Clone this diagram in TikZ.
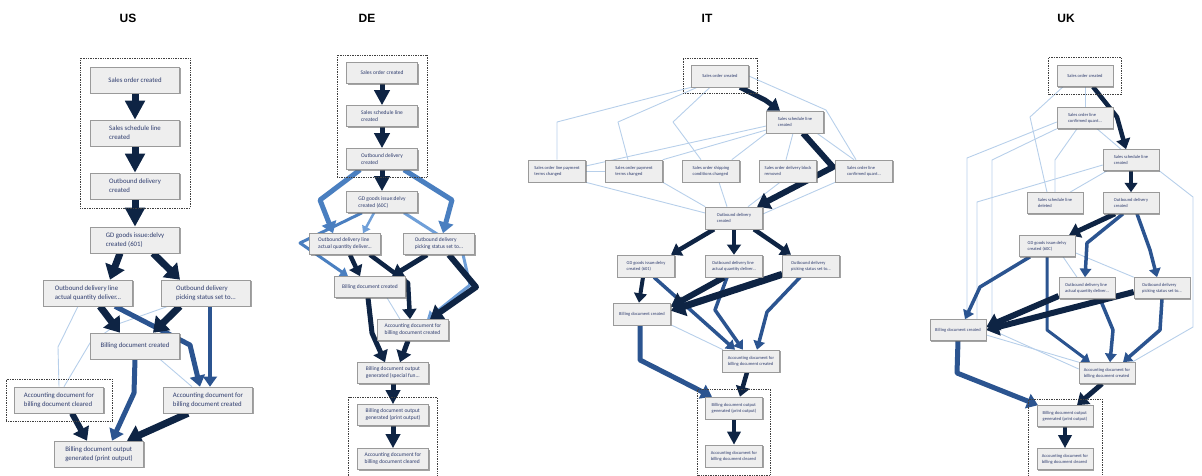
\documentclass[tikz,border=0pt]{standalone}
\usepackage{fontspec}
\newfontfamily\carl{Carlito}
\newfontfamily\hd{Liberation Sans}
\usetikzlibrary{arrows.meta,shadows,fit}
\definecolor{dkc}{HTML}{0E2444}
\definecolor{mdc}{HTML}{2B5490}
\definecolor{lbc}{HTML}{4A7FC0}
\definecolor{lb2c}{HTML}{6F9FD8}
\definecolor{ltc}{HTML}{B7CFEA}
\definecolor{txtc}{HTML}{2E3C6E}
\definecolor{fillc}{HTML}{EEEEEE}
\definecolor{boxc}{HTML}{9A9A9A}
\pgfdeclarelayer{edges}
\pgfsetlayers{edges,main}
\tikzset{
  box/.style={draw=boxc, fill=fillc, line width=0.6pt, align=left, text=txtc, inner sep=1pt,
    drop shadow={shadow xshift=1.3pt, shadow yshift=-1.3pt, fill=black!60, opacity=0.6}},
  bus/.style={box, minimum width=89pt, minimum height=26pt, font=\carl\fontsize{6.8}{9}\selectfont},
  bde/.style={box, minimum width=71pt, minimum height=21pt, font=\carl\fontsize{5.5}{7}\selectfont},
  bit/.style={box, minimum width=57pt, minimum height=22pt, font=\carl\fontsize{4.5}{6}\selectfont},
  buk/.style={box, minimum width=56pt, minimum height=21pt, font=\carl\fontsize{4.5}{6}\selectfont},
  dotbox/.style={draw=black!75, line width=0.6pt, dash pattern=on 0.8pt off 0.9pt, inner sep=0pt},
  heading/.style={font=\hd\bfseries\fontsize{12}{14}\selectfont, text=black},
  arr/.style={-{Triangle[length=3pt 1.6, width=3pt 2.4]}},
  bigtip/.style={-{Triangle[length=#1, width=#1]}},
  edk/.style={draw=dkc, line width=#1, arr, line join=round},
  edk/.default=4pt,
  emd/.style={draw=mdc, line width=#1, arr, line join=round},
  emd/.default=3pt,
  elb/.style={draw=lbc, line width=#1, arr, line join=round},
  elb/.default=3pt,
  elbb/.style={draw=lb2c, line width=#1, arr, line join=round},
  elbb/.default=2pt,
  elt/.style={draw=ltc, line width=0.9pt, line join=round}
}
\begin{document}
\begin{tikzpicture}[x=1pt,y=-1pt]
\useasboundingbox (0,0) rectangle (1202,476);

% headings
\node[heading] (hus) at (128,18) {US};
\node[heading] (hde) at (367,18) {DE};
\node[heading] (hit) at (707,18) {IT};
\node[heading] (huk) at (1066,18) {UK};

% ===================== US =====================
\node[bus] (u1) at (135,80) {Sales order created};
\node[bus] (u2) at (135,133) {Sales schedule line\\created};
\node[bus] (u3) at (135,186) {Outbound delivery\\created};
\node[bus] (u4) at (135,240) {GD goods issue:delvy\\created (601)};
\node[bus] (u5) at (88,293) {Outbound delivery line\\actual quantity deliver...};
\node[bus] (u6) at (206,293) {Outbound delivery\\picking status set to...};
\node[bus] (u7) at (135,346) {Billing document created};
\node[bus] (u8) at (59,400) {Accounting document for\\billing document cleared};
\node[bus] (u9) at (208,400) {Accounting document for\\billing document created};
\node[bus] (u10) at (99,454) {Billing document output\\generated (print output)};
\node[dotbox, fit=(u1)(u3), inner xsep=10pt, inner ysep=8.5pt] (fu1) {};
\node[dotbox, fit=(u8), inner xsep=8pt, inner ysep=7.5pt] (fu2) {};

\begin{pgfonlayer}{edges}
\draw[elt] ([xshift=-10pt]u5.south) -- (58,347) -- (u8.north);
\draw[elt] ([xshift=-38pt]u6.south) -- (118,324) -- (90,343) -- ([xshift=5pt]u8.north);
\draw[elt] ([xshift=25pt]u7.south) -- ([xshift=-16pt]u9.north);
\draw[edk=7pt, bigtip=19pt] (u1.south) -- (u2.north);
\draw[edk=7pt, bigtip=19pt] (u2.south) -- (u3.north);
\draw[edk=7pt, bigtip=19pt] (u3.south) -- (u4.north);
\draw[edk=7pt] ([xshift=-15pt]u4.south) -- ([xshift=22pt]u5.north);
\draw[edk=7pt] ([xshift=18pt]u4.south) -- ([xshift=-26pt]u6.north);
\draw[emd=5pt] ([xshift=27pt]u5.south) -- (190,345) -- ([xshift=-8pt]u9.north);
\draw[emd=4.5pt] ([xshift=4pt]u6.south) -- ([xshift=2pt]u9.north);
\draw[edk=7pt] ([xshift=12pt]u5.south) -- ([xshift=-15pt]u7.north);
\draw[edk=7pt] ([xshift=-26pt]u6.south) -- ([xshift=18pt]u7.north);
\draw[emd=5pt] (u7.south) -- (134,393) -- ([xshift=13pt]u10.north);
\draw[edk=7pt] ([xshift=-20pt]u9.south) -- ([xshift=28pt]u10.north);
\draw[edk=6pt] ([xshift=13pt]u8.south) -- ([xshift=-12pt]u10.north);
\end{pgfonlayer}

% ===================== DE =====================
\node[bde] (d1) at (382,73) {Sales order created};
\node[bde] (d2) at (382,116) {Sales schedule line\\created};
\node[bde] (d3) at (382,159) {Outbound delivery\\created};
\node[bde] (d4) at (382,202) {GD goods issue:delvy\\created (60C)};
\node[bde] (d5) at (345,244) {Outbound delivery line\\actual quantity deliver...};
\node[bde] (d6) at (439,244) {Outbound delivery\\picking status set to...};
\node[bde] (d7) at (370,287) {Billing document created};
\node[bde] (d8) at (413,330) {Accounting document for\\billing document created};
\node[bde] (d9) at (393,373) {Billing document output\\generated (special fun...};
\node[bde] (d10) at (393,415) {Billing document output\\generated (print output)};
\node[bde] (d11) at (393,459) {Accounting document for\\billing document cleared};
\node[dotbox, fit=(d1)(d3), inner xsep=9pt, inner ysep=7pt] (fd1) {};
\node[dotbox, fit=(d10)(d11), inner xsep=8.5pt, inner ysep=7pt] (fd2) {};

\begin{pgfonlayer}{edges}
\draw[elt] ([xshift=17pt]d7.south) -- ([xshift=-13pt]d8.north);
\draw[elb=5pt] ([xshift=-22pt]d3.south) -- (320,200) -- ([xshift=-12pt]d5.north);
\draw[elb=3pt] ([xshift=-20pt]d4.south) -- (300,243) -- ([xshift=-22pt]d7.north);
\draw[elb=5pt] ([xshift=22pt]d3.south) -- (452,200) -- ([xshift=4pt]d6.north);
\draw[elbb=2.5pt] ([xshift=-8pt]d4.south) -- ([xshift=18pt]d5.north);
\draw[elbb=3pt] ([xshift=22pt]d4.south) -- (462,250) -- (470,285) -- ([xshift=14pt]d8.north);
\draw[edk=5pt, bigtip=15pt] (d1.south) -- (d2.north);
\draw[edk=5pt, bigtip=15pt] (d2.south) -- (d3.north);
\draw[edk=5pt, bigtip=15pt] (d3.south) -- (d4.north);
\draw[edk=4.5pt] ([xshift=5pt]d5.south) -- ([xshift=-10pt]d7.north);
\draw[edk=4.5pt] ([xshift=25pt]d5.south) -- (408,283) -- ([xshift=-3pt]d8.north);
\draw[edk=5pt] ([xshift=-12pt]d6.south) -- ([xshift=22pt]d7.north);
\draw[edk=6pt] ([xshift=10pt]d6.south) -- (476,287) -- ([xshift=17pt]d8.north);
\draw[edk=5pt] ([xshift=-2pt]d7.south) -- (372,333) -- ([xshift=-8pt]d9.north);
\draw[edk=5pt] ([xshift=-5pt]d8.south) -- ([xshift=7pt]d9.north);
\draw[edk=5pt, bigtip=14pt] (d9.south) -- (d10.north);
\draw[edk=5pt, bigtip=14pt] (d10.south) -- (d11.north);
\end{pgfonlayer}

% ===================== IT =====================
\node[bit] (i1) at (720,76) {Sales order created};
\node[bit] (i2) at (795,122) {Sales schedule line\\created};
\node[bit] (i3) at (557,171) {Sales order line payment\\terms changed};
\node[bit] (i4) at (634,171) {Sales order payment\\terms changed};
\node[bit] (i5) at (711,171) {Sales order shipping\\conditions changed};
\node[bit] (i6) at (788,171) {Sales order delivery block\\removed};
\node[bit] (i7) at (864,171) {Sales order line\\confirmed quant...};
\node[bit] (i8) at (734,218) {Outbound delivery\\created};
\node[bit] (i9) at (646,266) {GD goods issue:delvy\\created (601)};
\node[bit] (i10) at (734,266) {Outbound delivery line\\actual quantity deliver...};
\node[bit] (i11) at (811,266) {Outbound delivery\\picking status set to...};
\node[bit] (i12) at (642,314) {Billing document created};
\node[bit] (i13) at (751,361) {Accounting document for\\billing document created};
\node[bit] (i14) at (734,408) {Billing document output\\generated (print output)};
\node[bit] (i15) at (734,456) {Accounting document for\\billing document cleared};
\node[dotbox, fit=(i1), inner xsep=8pt, inner ysep=6.5pt] (fi1) {};
\node[dotbox, fit=(i14)(i15), inner xsep=7.5pt, inner ysep=7.5pt] (fi2) {};

\begin{pgfonlayer}{edges}
\draw[elt] (i1.south west) -- (557,122) -- (i3.north);
\draw[elt] ([xshift=6pt]i1.south west) -- (618,122) -- ([xshift=-6pt]i4.north);
\draw[elt] ([xshift=-10pt]i1.south) -- (673,122) -- ([xshift=-10pt]i5.north);
\draw[elt] (i1.east) -- (826,110) -- ([xshift=-8pt]i7.north);
\draw[elt] ([yshift=-4pt]i2.west) -- ([yshift=5pt]i3.east);
\draw[elt] ([yshift=-8pt]i2.west) -- (i4.north east);
\draw[elt] (i2.south west) -- ([xshift=-8pt]i5.north east);
\draw[elt] ([xshift=-2pt]i2.south) -- ([xshift=-2pt]i6.north);
\draw[elt] ([xshift=22pt]i2.south) -- ([xshift=-10pt]i7.north);
\draw[elt] (i3.east) -- (i4.west);
\draw[elt] (i3.south east) -- ([yshift=5pt]i8.west);
\draw[elt] (i4.south east) -- (i8.north west);
\draw[elt] ([xshift=8pt]i5.south) -- ([xshift=-7pt]i8.north);
\draw[elt] ([xshift=-8pt]i6.south) -- ([xshift=14pt]i8.north);
\draw[elt] (i7.south west) -- ([yshift=4pt]i8.east);
\draw[elt] ([xshift=30pt]i12.south) -- ([xshift=-28pt]i13.north);
\draw[edk=5pt] ([xshift=20pt]i1.south) -- (765,100) -- ([xshift=-15pt]i2.north);
\draw[edk=6pt] ([xshift=8pt]i2.south) -- (833,167) -- ([xshift=23pt]i8.north);
\draw[edk=4.5pt] ([xshift=-20pt]i8.south) -- ([xshift=25pt]i9.north);
\draw[edk=4.5pt] (i8.south) -- (i10.north);
\draw[edk=4.5pt] ([xshift=20pt]i8.south) -- ([xshift=-20pt]i11.north);
\draw[edk=4pt] ([xshift=-3pt]i9.south) -- ([xshift=-3pt]i12.north);
\draw[emd=3.5pt] ([xshift=8pt]i9.south) -- ([xshift=-16pt]i13.north);
\draw[emd=3.5pt] ([xshift=-7pt]i10.south) -- (715,310) -- ([xshift=-8pt]i13.north);
\draw[emd=3.5pt] ([xshift=-11pt]i11.south) -- (767,312) -- ([xshift=6pt]i13.north);
\draw[edk=6pt] ([xshift=-10pt]i10.south) -- ([yshift=-4pt]i12.north east);
\draw[edk=7pt] ([yshift=3pt]i11.south west) -- ([yshift=-8pt]i12.north east);
\draw[emd=5pt] ([xshift=-2pt]i12.south) -- (640,360) -- ([xshift=-22pt]i14.north);
\draw[edk=4.5pt] ([xshift=-4pt]i13.south) -- ([xshift=6pt]i14.north);
\draw[edk=4.5pt, bigtip=13pt] (i14.south) -- (i15.north);
\end{pgfonlayer}

% ===================== UK =====================
\node[buk] (k1) at (1085,76) {Sales order created};
\node[buk] (k2) at (1085,118) {Sales order line\\confirmed quant...};
\node[buk] (k3) at (1131,160) {Sales schedule line\\created};
\node[buk] (k4) at (1055,203) {Sales schedule line\\deleted};
\node[buk] (k5) at (1131,203) {Outbound delivery\\created};
\node[buk] (k6) at (1047,246) {GD goods issue:delvy\\created (60C)};
\node[buk] (k7) at (1087,288) {Outbound delivery line\\actual quantity deliver...};
\node[buk] (k8) at (1162,288) {Outbound delivery\\picking status set to...};
\node[buk] (k9) at (958,330) {Billing document created};
\node[buk] (k10) at (1107,373) {Accounting document for\\billing document created};
\node[buk] (k11) at (1065,416) {Billing document output\\generated (print output)};
\node[buk] (k12) at (1065,459) {Accounting document for\\billing document cleared};
\node[dotbox, fit=(k1), inner xsep=8pt, inner ysep=8pt] (fk1) {};
\node[dotbox, fit=(k11)(k12), inner xsep=8.5pt, inner ysep=6pt] (fk2) {};

\begin{pgfonlayer}{edges}
\draw[elt] (k1.south) -- (k2.north);
\draw[elt] ([xshift=-22pt]k1.south) -- (1030,117) -- ([xshift=-8pt]k4.north);
\draw[elt] ([xshift=-8pt]k2.south) -- (1055,160) -- (k4.north);
\draw[elt] ([xshift=12pt]k2.south) -- ([xshift=-10pt]k3.north);
\draw[elt] ([yshift=-4pt]k2.west) -- (967,158) -- ([xshift=9pt]k9.north);
\draw[elt] (k2.south west) -- (992,160) -- (992,330) -- ([yshift=4pt]k10.west);
\draw[elt] ([yshift=-5pt]k3.west) -- (977,202) -- ([xshift=19pt]k9.north);
\draw[elt] ([xshift=-24pt]k3.south) -- ([xshift=15pt]k4.north);
\draw[elt] (k3.south east) -- (1193,197) -- (1193,327) -- ([xshift=25pt]k10.north);
\draw[elt] ([xshift=16pt]k6.south) -- ([xshift=-10pt]k7.north);
\draw[elt] ([yshift=4pt]k6.south east) -- (k8.north west);
\draw[elt] ([yshift=-5pt]k9.east) -- (k10.north west);
\draw[edk=4.5pt] ([xshift=8pt]k1.south) -- (1117,117) -- ([xshift=-5pt]k3.north);
\draw[edk=4pt] (k3.south) -- (k5.north);
\draw[edk=5pt] ([xshift=-16pt]k5.south) -- ([xshift=22pt]k6.north);
\draw[emd=3.5pt] ([xshift=-8pt]k5.south) -- (1087,243) -- ([xshift=-2pt]k7.north);
\draw[emd=3.5pt] ([xshift=6pt]k5.south) -- (1150,250) -- ([xshift=-5pt]k8.north);
\draw[emd=3.5pt] ([xshift=-17pt]k6.south) -- (980,287) -- ([xshift=7pt]k9.north);
\draw[emd=3pt] (k6.south) -- (1047,330) -- ([xshift=-17pt]k10.north);
\draw[emd=3.5pt] ([xshift=13pt]k7.south) -- (1113,330) -- ([xshift=3pt]k10.north);
\draw[emd=3.5pt] (k8.south) -- (1160,330) -- ([xshift=16pt]k10.north);
\draw[edk=6pt] ([yshift=-8pt]k7.west) -- ([yshift=3pt]k9.east);
\draw[edk=6pt] ([yshift=-4pt]k8.west) -- ([yshift=0pt]k9.east);
\draw[emd=5pt] (k9.south) -- (957,373) -- ([xshift=-27pt]k11.north);
\draw[edk=5pt] ([xshift=-5pt]k10.south) -- ([xshift=12pt]k11.north);
\draw[edk=4.5pt, bigtip=13pt] (k11.south) -- (k12.north);
\end{pgfonlayer}
\end{tikzpicture}
\end{document}
